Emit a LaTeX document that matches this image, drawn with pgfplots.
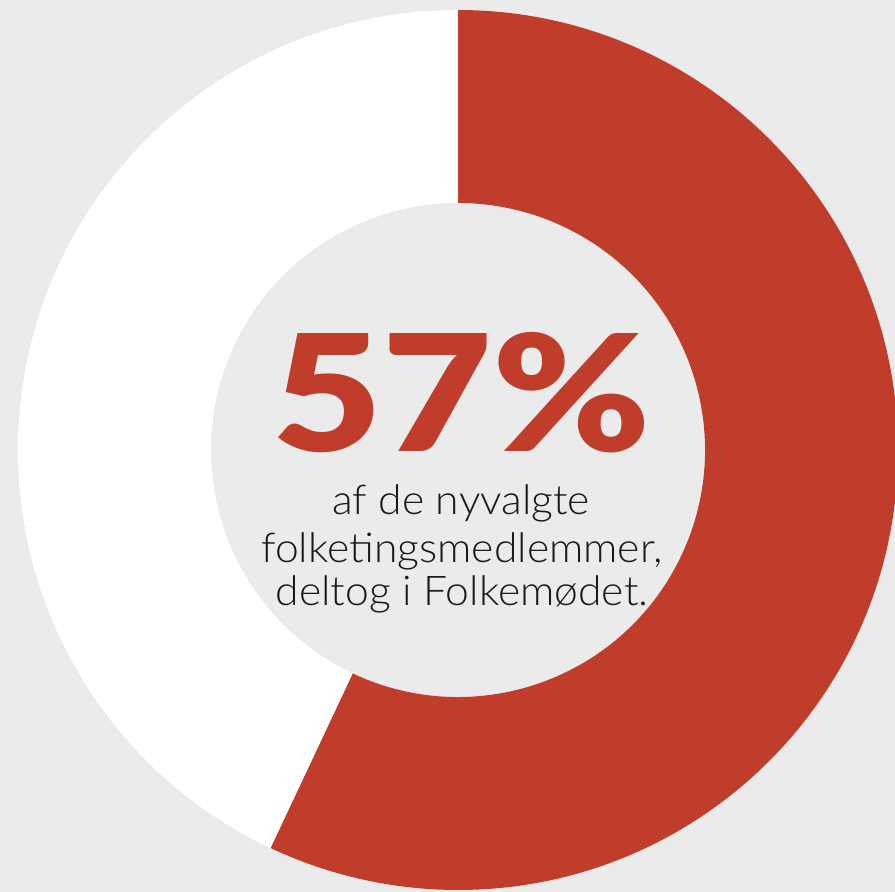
\documentclass[border=0pt]{standalone}
\usepackage{pgfplots}
\pgfplotsset{compat=1.18}
\usepackage{pgfplotstable}
\usepackage{fontspec}
\setmainfont{Lato}
\newfontfamily\lightfont{Lato Light}
\newfontfamily\blackfont{Lato Black}

\definecolor{bg}{RGB}{235,235,235}
\definecolor{donutred}{RGB}{192,61,44}
\definecolor{txt}{RGB}{25,25,25}

% share of newly elected members who took part
\pgfplotstableread{
part  value
ja    57
nej   43
}\shares
\pgfplotstablegetelem{0}{value}\of\shares
\let\valja\pgfplotsretval
\pgfmathsetmacro{\endang}{90-3.6*\valja}

\newcommand\bodyline[1]{\scalebox{1.04}[1]{\lightfont\fontsize{20.5}{23}\selectfont #1}}

\begin{document}
\begin{tikzpicture}
\begin{axis}[
    scale only axis,
    width=447.5pt, height=446pt,
    xmin=0, xmax=895, ymin=0, ymax=892,
    hide axis,
    axis background/.style={fill=bg},
    clip=true,
]
\path (axis cs:458,442) coordinate (c);
% white remainder
\fill[white] ([shift={(90:220pt)}]c) arc[start angle=90, end angle=\endang-360, radius=220pt]
   -- ([shift={(\endang:123.5pt)}]c) arc[start angle=\endang-360, end angle=90, radius=123.5pt] -- cycle;
% red share
\fill[donutred] ([shift={(90:220pt)}]c) arc[start angle=90, end angle=\endang, radius=220pt]
   -- ([shift={(\endang:123.5pt)}]c) arc[start angle=\endang, end angle=90, radius=123.5pt] -- cycle;

\node[anchor=base, text=donutred, inner sep=0pt] at (axis cs:462,440)
   {\scalebox{1.17}[1]{\blackfont\fontsize{81}{81}\selectfont \valja\%}};
\node[anchor=base, text=txt, inner sep=0pt] at (axis cs:461,377) {\bodyline{af de nyvalgte}};
\node[anchor=base, text=txt, inner sep=0pt] at (axis cs:462,329) {\bodyline{folketingsmedlemmer,}};
\node[anchor=base, text=txt, inner sep=0pt] at (axis cs:462,286) {\bodyline{deltog i Folkemødet.}};
\end{axis}
\end{tikzpicture}
\end{document}
